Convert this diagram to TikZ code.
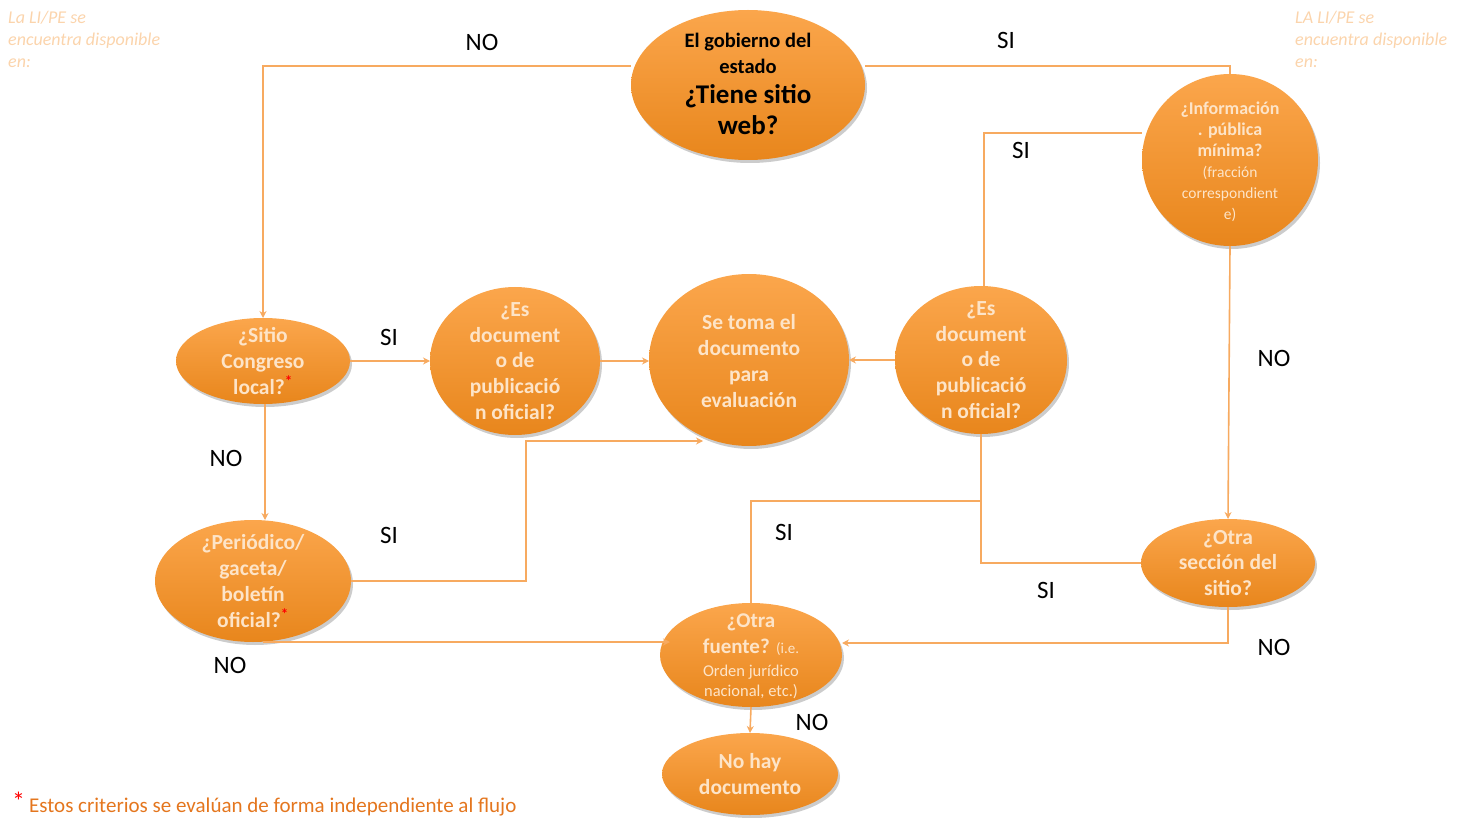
\documentclass[tikz,border=0pt]{standalone}
\usepackage{fontspec}
\setmainfont{Carlito}
\usetikzlibrary{shapes.geometric,arrows.meta,shadows}
\definecolor{ortop}{RGB}{251,166,76}
\definecolor{orbot}{RGB}{232,134,28}
\definecolor{lineor}{RGB}{247,170,96}
\definecolor{ntext}{RGB}{253,228,200}
\definecolor{corner}{RGB}{251,212,172}
\definecolor{foottext}{RGB}{228,118,30}
\tikzset{
  shp/.style={ellipse, draw=none, inner sep=0pt, outer sep=0pt, top color=ortop, bottom color=orbot,
    drop shadow={opacity=0.2, shadow xshift=2pt, shadow yshift=-3pt, fill=black}},
  txt/.style={align=center, text=ntext, inner sep=0pt, font=\bfseries\fontsize{21.5}{25.7}\selectfont},
  lbl/.style={inner sep=0pt, text=black, font=\fontsize{25}{25}\selectfont},
  conn/.style={draw=lineor, line width=1.6pt},
  arr/.style={conn, -{Stealth[length=7pt,width=7pt]}},
  cornertxt/.style={anchor=north west, align=left, inner sep=0pt, text=corner, font=\itshape\fontsize{18}{22}\selectfont},
}
\newcommand{\redast}{\textcolor{red}{\textsuperscript{*}}}
\begin{document}
\begin{tikzpicture}[x=1pt,y=-1pt]
\useasboundingbox (0,0) rectangle (1464,818);
% shapes
\node[shp, minimum width=234pt, minimum height=150pt] (top) at (748,85) {};
\node[shp, minimum width=176pt, minimum height=172pt] (info) at (1230,160) {};
\node[shp, minimum width=174pt, minimum height=86pt] (sit) at (263,361) {};
\node[shp, minimum width=170pt, minimum height=148pt] (esl) at (515,361) {};
\node[shp, minimum width=200pt, minimum height=172pt] (tom) at (749,360) {};
\node[shp, minimum width=172pt, minimum height=148pt] (esr) at (981,360) {};
\node[shp, minimum width=196pt, minimum height=122pt] (per) at (253,581) {};
\node[shp, minimum width=174pt, minimum height=88pt] (sec) at (1228,563) {};
\node[shp, minimum width=182pt, minimum height=104pt] (fue) at (751,655) {};
\node[shp, minimum width=176pt, minimum height=82pt] (hay) at (750,774) {};
% texts
\node[txt, text=black, font=\bfseries\fontsize{20.5}{26}\selectfont] (ttop) at (748,84) {El gobierno del\\ estado\\[4pt] \fontsize{27}{31}\selectfont ¿Tiene sitio\\[5pt] \fontsize{27}{31}\selectfont web?};
\node[txt, font=\bfseries\fontsize{18}{21}\selectfont] (tinfo) at (1230,162) {¿Información\\ . pública\\ mínima?\\ \fontsize{15.5}{21}\mdseries\selectfont (fracción\\ \fontsize{15.5}{21}\mdseries\selectfont correspondient\\ \fontsize{15.5}{21}\mdseries\selectfont e)};
\node[txt] (tsit) at (263,361) {¿Sitio\\Congreso\\local?\redast};
\node[txt] (tesl) at (515,361) {¿Es\\document\\o de\\publicació\\n oficial?};
\node[txt] (ttom) at (749,361) {Se toma el\\documento\\para\\evaluación};
\node[txt] (tesr) at (981,360) {¿Es\\document\\o de\\publicació\\n oficial?};
\node[txt] (tper) at (253,581) {¿Periódico/\\gaceta/\\boletín\\oficial?\redast};
\node[txt] (tsec) at (1228,563) {¿Otra\\sección del\\sitio?};
\node[txt, font=\bfseries\fontsize{21}{26}\selectfont] (tfue) at (751,656) {¿Otra\\ fuente? {\mdseries\fontsize{15}{20}\selectfont (i.e.}\\[-3pt] \fontsize{16.5}{20}\mdseries\selectfont Orden jurídico\\[-6pt] \fontsize{16.5}{20}\mdseries\selectfont nacional, etc.)};
\node[txt] (thay) at (750,774) {No hay\\documento};
% junction coordinates
\coordinate (j1) at (526,441);
\coordinate (j2) at (703,441);
\coordinate (j3) at (981,501);
% connectors
\draw[arr] ([yshift=19pt]top.west) -| (sit.north);
\draw[conn] ([yshift=19pt]top.east) -| (info.north);
\draw[conn] ([yshift=27pt]info.west) -| ([xshift=3pt]esr.north);
\draw[arr] (info.south) -- (sec.north);
\draw[arr] (sit.east) -- (esl.west);
\draw[arr] (esl.east) -- (esl.east -| tom.west);
\draw[arr] (esr.west) -- (esr.west -| tom.east);
\draw[arr] ([xshift=2pt]sit.south) -- ([xshift=2pt]sit.south |- per.north);
\draw[arr] (per.east) -| (j1) -- (j2);
\draw[arr] ([xshift=10pt]per.south) -- ([xshift=10pt]per.south -| fue.west);
\draw[arr] (sec.south) |- ([yshift=12pt]fue.east);
\draw[conn] (sec.west) -| (esr.south);
\draw[conn] (fue.north) |- (j3);
\draw[arr] (fue.south) -- (hay.north);
% labels
\node[lbl] (l1) at (482,42) {NO};
\node[lbl] (l2) at (1006,40) {SI};
\node[lbl] (l3) at (1021,150) {SI};
\node[lbl] (l4) at (1274,358) {NO};
\node[lbl] (l5) at (389,337) {SI};
\node[lbl] (l6) at (226,458) {NO};
\node[lbl] (l7) at (389,535) {SI};
\node[lbl] (l8) at (230,665) {NO};
\node[lbl] (l9) at (784,532) {SI};
\node[lbl] (l10) at (1046,590) {SI};
\node[lbl] (l11) at (1274,647) {NO};
\node[lbl] (l12) at (812,722) {NO};
% corner notes
\node[cornertxt] (cl) at (8,11) {La LI/PE se\\encuentra disponible\\en:};
\node[cornertxt] (cr) at (1295,11) {LA LI/PE se\\encuentra disponible\\en:};
% footnote
\node[anchor=base west, inner sep=0pt, text=foottext, font=\fontsize{21}{21}\selectfont] (foot) at (12,812) {{\fontsize{26}{26}\selectfont\textcolor{red}{\raisebox{2pt}{*}}}\hspace{4pt}Estos criterios se evalúan de forma independiente al flujo};
\end{tikzpicture}
\end{document}
